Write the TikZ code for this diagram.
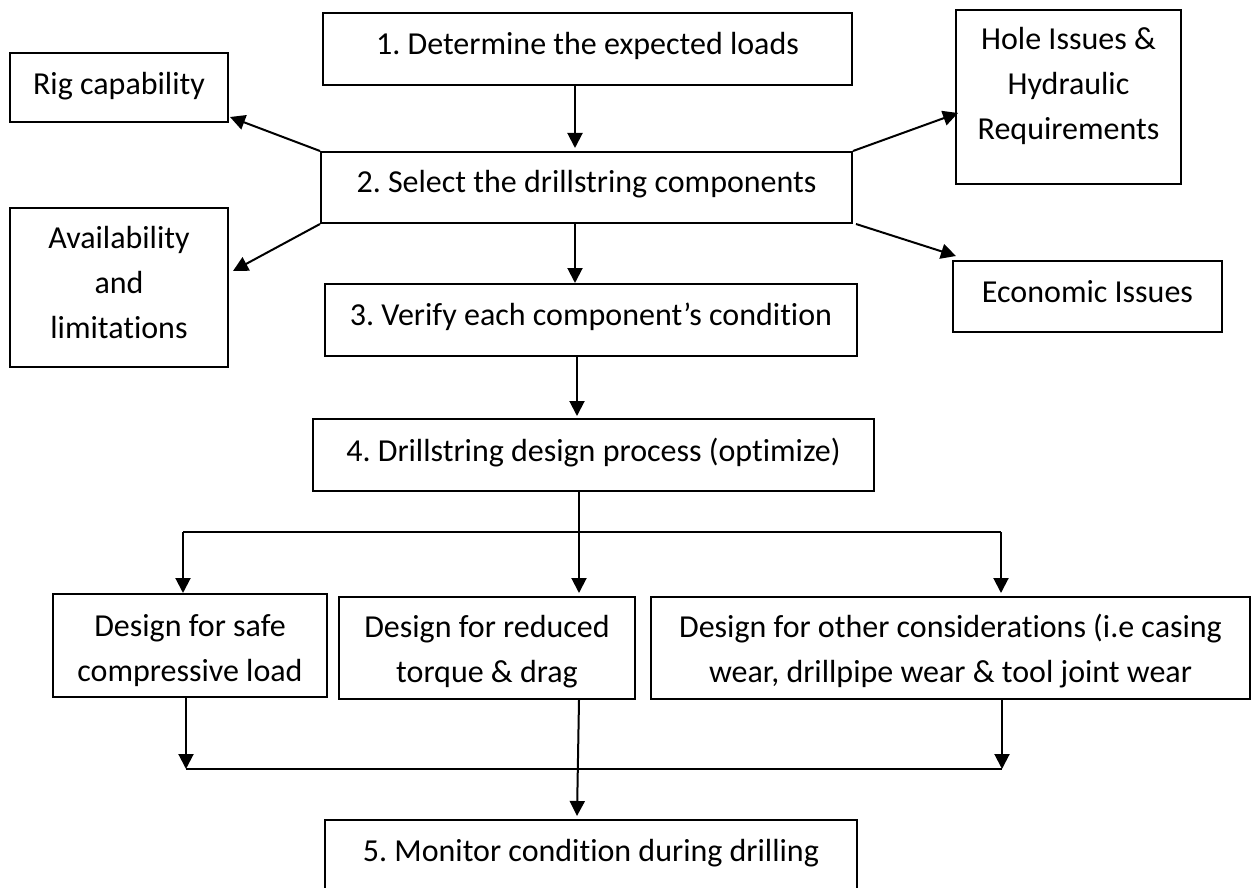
\documentclass[tikz,border=0pt]{standalone}
\usepackage{fontspec}
\setmainfont{Carlito}[Ligatures=CommonOff]
\usetikzlibrary{arrows.meta,calc}
\frenchspacing
\begin{document}
\begin{tikzpicture}[x=1pt,y=-1pt,
  box/.style={draw, line width=2pt, inner sep=0pt},
  txt/.style={anchor=base, inner sep=0pt, align=center, font=\fontsize{32}{45}\selectfont\frenchspacing},
  arr/.style={line width=2pt, -{Triangle[length=15pt,width=15pt]}},
  ln/.style={line width=2pt}]
\useasboundingbox (0,0) rectangle (1254,888);
% boxes
\node[box, minimum width=529pt, minimum height=72pt] (b1) at (587.5,49) {};
\node[box, minimum width=531pt, minimum height=71pt] (b2) at (586.5,187.5) {};
\node[box, minimum width=532pt, minimum height=72pt] (b3) at (591,320) {};
\node[box, minimum width=561pt, minimum height=72pt] (b4) at (593.5,455) {};
\node[box, minimum width=532pt, minimum height=72pt] (b5) at (591,856) {};
\node[box, minimum width=218pt, minimum height=69pt] (rig) at (119,87.5) {};
\node[box, minimum width=218pt, minimum height=159pt] (avail) at (119,287.5) {};
\node[box, minimum width=225pt, minimum height=174pt] (hole) at (1068.5,97) {};
\node[box, minimum width=269pt, minimum height=71pt] (econ) at (1087.5,296.5) {};
\node[box, minimum width=274pt, minimum height=103pt] (safe) at (190,645.5) {};
\node[box, minimum width=296pt, minimum height=102pt] (red) at (487,648) {};
\node[box, minimum width=599pt, minimum height=102pt] (other) at (950.5,648) {};
% texts (anchor=base is the baseline of the last line)
\node[txt] (t1) at (587.5,55) {1. Determine the expected loads};
\node[txt] (t2) at (586.5,193) {2. Select the drillstring components};
\node[txt] (t3) at (591,325) {3. Verify each component’s condition};
\node[txt] (t4) at (593.5,461) {4. Drillstring design process (optimize)};
\node[txt] (t5) at (591,861) {5. Monitor condition during drilling};
\node[txt] (trig) at (119,95) {Rig capability};
\node[txt] (tav) at (119,338) {Availability\\and\\limitations};
\node[txt] (thole) at (1068.5,140) {Hole Issues \&\\Hydraulic\\Requirements};
\node[txt] (tecon) at (1087.5,302) {Economic Issues};
\node[txt] (tsafe) at (190,681) {Design for safe\\compressive load};
\node[txt] (tred) at (487,682) {Design for reduced\\torque \& drag};
\node[txt] (toth) at (950.5,682) {Design for other considerations (i.e casing\\wear, drillpipe wear \& tool joint wear};
% helper coordinates
\coordinate (xa) at (575,0);
\coordinate (xc) at (577,0);
\coordinate (br) at (579,532);
\coordinate (brL) at (183,532);
\coordinate (brR) at (1001,532);
\coordinate (mL) at (186,769);
\coordinate (mR) at (1002,769);
% vertical chain
\draw[arr] (b1.south -| xa) -- ($(b2.north -| xa)+(0,-3)$);
\draw[arr] (b2.south -| xa) -- (b3.north -| xa);
\draw[arr] (b3.south -| xc) -- ($(b4.north -| xc)+(0,-2)$);
% side arrows
\draw[arr] (b2.north west) -- ($(rig.south east)+(1,-6)$);
\draw[arr] (b2.south west) -- ($(avail.north east)+(4,64)$);
\draw[arr] (b2.north east) -- ($(hole.north west)+(3,104)$);
\draw[arr] ($(b2.south east)+(3,0)$) -- ($(econ.north west)+(4,-4)$);
% branch
\draw[ln] (b4.south -| br) -- (br);
\draw[ln] (brL) -- (brR);
\draw[arr] (brL) -- (safe.north -| brL);
\draw[arr] (br) -- ($(red.north -| br)+(0,-3)$);
\draw[arr] (brR) -- ($(other.north -| brR)+(0,-3)$);
% merge
\draw[arr] (safe.south -| mL) -- (mL);
\draw[arr] (other.south -| mR) -- (mR);
\draw[ln] (mL) -- (mR);
\draw[arr] ($(red.south west)+(241,0)$) -- ($(b5.north west)+(253,-3)$);
\end{tikzpicture}
\end{document}
